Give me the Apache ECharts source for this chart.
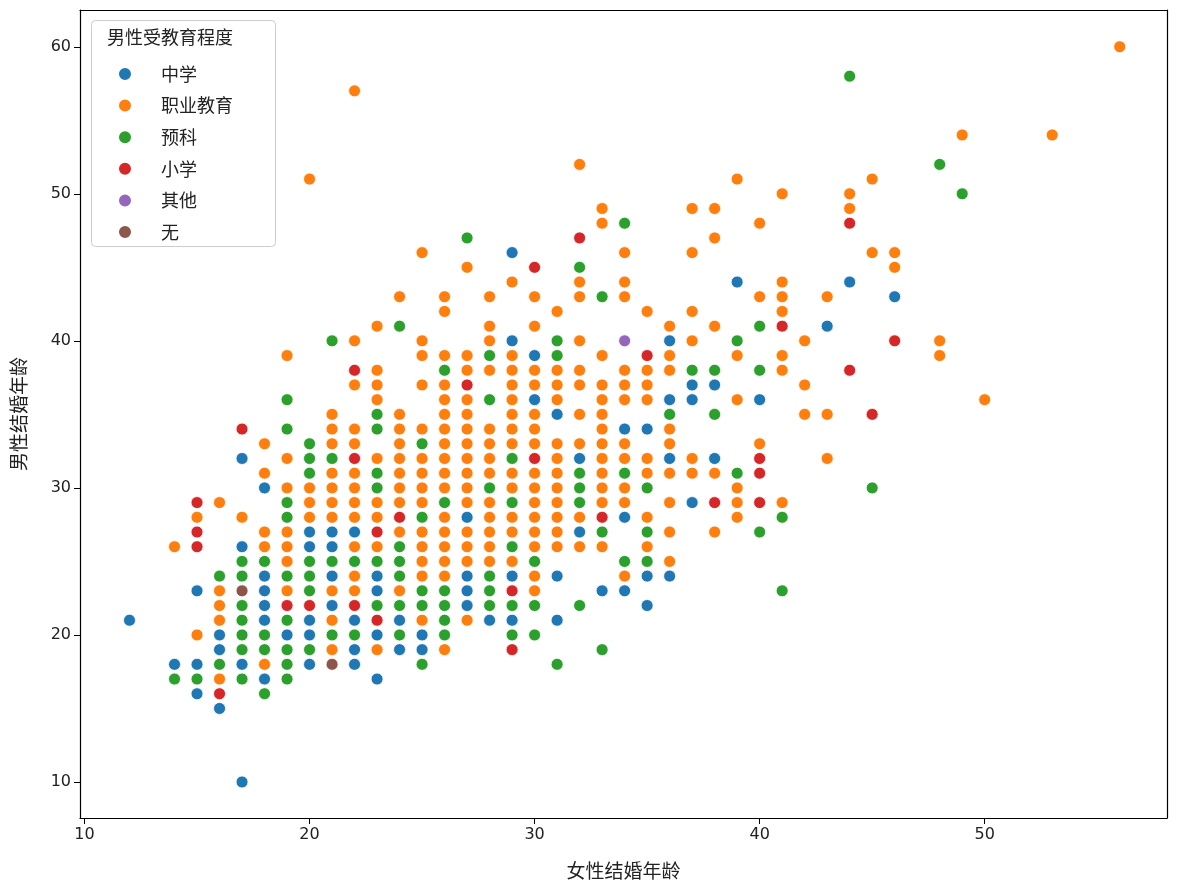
<!DOCTYPE html>
<html><head><meta charset="utf-8">
<script src="https://cdn.jsdelivr.net/npm/echarts@6/dist/echarts.min.js"></script>
<style>html,body{margin:0;padding:0;background:#fff}#c{width:1177px;height:896px}</style>
</head><body><div id="c"></div>
<script>
const categories = ['中学','职业教育','预科','小学','其他','无'];
const colors = ['#1f77b4','#ff7f0e','#2ca02c','#d62728','#9467bd','#8c564b'];
const xTicks = [10,20,30,40,50];
const yTicks = [10,20,30,40,50,60];
// grouped as {x: [y values]}
const blueCols = {12:[21],14:[18],15:[23,18,16],16:[20,19,15],17:[32,26,18,10],18:[30,24,23,22,21,17],19:[20],
 20:[27,26,21,20,18],21:[27,26,24,22],22:[27,21,19,18],23:[24,23,20,17],24:[21,19],25:[20,19],27:[28,24,23,22],28:[21],
 29:[46,40,24,21],30:[39,36],31:[35,24,21],32:[32,27],33:[23],34:[34,28,23],35:[34,24,22],36:[40,36,32,24],37:[37,36,29],
 38:[37,32],39:[44],40:[36],43:[41],44:[44],46:[43]};
const orangeCols = {14:[26],15:[28,20],16:[29,23,22,21,17],17:[28],18:[33,31,27,26,18],19:[39,32,30,27,26,25,23],20:[51,30,29,28],
 21:[35,34,33,31,30,29,28,23,21,19],22:[57,40,37,34,33,31,30,29,28,26,24,23],23:[41,38,37,36,32,29,28,26,19],
 24:[43,35,34,33,32,31,30,29,27,23],25:[46,40,39,37,34,32,31,30,29,27,26,25,24,21],
 26:[43,42,39,37,36,35,34,33,32,31,30,28,27,26,25,24,19],27:[45,39,38,36,35,34,33,32,31,30,29,27,26,25,21],
 28:[43,41,40,38,34,33,32,31,29,28,27,26,25],29:[44,39,38,37,36,35,34,33,31,30,28,27,25],
 30:[43,41,38,37,35,34,33,31,30,29,28,27,26,24,23],31:[42,38,37,36,33,32,31,30,29,28,27,26],
 32:[52,44,43,40,38,37,35,33,28,26],33:[49,48,39,37,36,35,34,33,32,31,30,29,26],34:[46,44,43,38,37,36,33,32,30,29,24],
 35:[42,38,37,36,32,31,28,26],36:[41,39,38,34,33,31,29,27,25],37:[49,46,42,40,32,31],38:[49,47,41,31,27],
 39:[51,39,36,30,29,28],40:[48,43,33],41:[50,44,43,42,39,38,29],42:[40,37,35],43:[43,35,32],44:[50,49],45:[51,46],
 46:[46,45],48:[40,39],49:[54],50:[36],53:[54],56:[60]};
const greenCols = {14:[17],15:[17],16:[24,18],17:[25,24,22,21,20,19,17],18:[25,20,19,16],19:[36,34,29,28,24,21,19,18,17],
 20:[33,32,31,25,24,23,19],21:[40,32,25,20],22:[25,20],23:[35,34,31,30,25,22],24:[41,26,25,24,22,20],25:[33,28,23,22,18],
 26:[38,29,23,22,21,20],27:[47],28:[39,36,30,24,23,22],29:[32,29,26,22,20],30:[25,22,20],31:[40,39,18],32:[45,31,30,29,22],
 33:[43,27,19],34:[48,31,25],35:[30,27,25],36:[35],37:[38],38:[38,35],39:[40,31],40:[41,38,27],41:[28,23],44:[58],45:[30],48:[52],49:[50]};
const redCols = {15:[29,27,26],16:[16],17:[34],19:[22],20:[22],22:[38,32,22],23:[27,21],24:[28],27:[37],29:[23,19],30:[45,32],
 32:[47],33:[28],35:[39],38:[29],40:[32,31,29],41:[41],44:[48,38],45:[35],46:[40]};
const purpleCols = {34:[40]};
const brownCols = {17:[23],21:[18]};
const groups = [blueCols,orangeCols,greenCols,redCols,purpleCols,brownCols];
function toPts(g){const r=[];for(const k in g){for(const y of g[k]) r.push([+k,y]);}return r;}
const font = "'DejaVu Sans','Noto Sans CJK SC',sans-serif";
const cjk = "'Noto Sans CJK SC',sans-serif";
const chart = echarts.init(document.getElementById('c'));
const series = categories.map((n,i)=>({name:n,type:'scatter',data:toPts(groups[i]),xAxisIndex:0,yAxisIndex:0,
  symbolSize:12,itemStyle:{color:colors[i],borderColor:'#fff',borderWidth:0.8,opacity:1}}));
chart.setOption({
  animation:false,
  color:colors,
  grid:{left:80,right:10,top:10,bottom:78},
  legend:{orient:'vertical',left:112,top:60,itemWidth:14,itemHeight:14,itemGap:13.6,icon:'circle',
    data:categories,textStyle:{fontFamily:cjk,fontSize:18,color:'#222',lineHeight:14,height:14,padding:[0,0,0,24]}},
  graphic:[
    {type:'rect',left:91,top:20,shape:{width:184,height:226,r:4},style:{fill:'rgba(255,255,255,0.8)',stroke:'#ccc',lineWidth:1},z:1},
    {type:'text',left:107,top:28,style:{text:'男性受教育程度',font:'18px '+cjk,fill:'#222'},z:2}
  ],
  xAxis:[{type:'value',min:9.8,max:58.1,name:'女性结婚年龄',nameLocation:'middle',nameGap:43,
    nameTextStyle:{fontFamily:cjk,fontSize:19,color:'#222'},
    axisLine:{show:true,lineStyle:{color:'#000',width:1.2}},axisTick:{show:true,length:6,customValues:xTicks,lineStyle:{color:'#000'}},
    axisLabel:{customValues:xTicks,fontFamily:font,fontSize:16,color:'#222',margin:9},splitLine:{show:false}},
   {type:'value',position:'top',min:9.8,max:58.1,axisLine:{show:true,onZero:false,lineStyle:{color:'#000',width:1.2}},axisTick:{show:false},axisLabel:{show:false},splitLine:{show:false}}],
  yAxis:[{type:'value',min:7.55,max:62.5,name:'男性结婚年龄',nameLocation:'middle',nameGap:52,
    nameTextStyle:{fontFamily:cjk,fontSize:19,color:'#222'},
    axisLine:{show:true,lineStyle:{color:'#000',width:1.2}},axisTick:{show:true,length:6,customValues:yTicks,lineStyle:{color:'#000'}},
    axisLabel:{customValues:yTicks,fontFamily:font,fontSize:16,color:'#222',margin:9},splitLine:{show:false}},
   {type:'value',position:'right',min:7.55,max:62.5,axisLine:{show:true,onZero:false,lineStyle:{color:'#000',width:1.2}},axisTick:{show:false},axisLabel:{show:false},splitLine:{show:false}}],
  series:series
});
</script></body></html>
